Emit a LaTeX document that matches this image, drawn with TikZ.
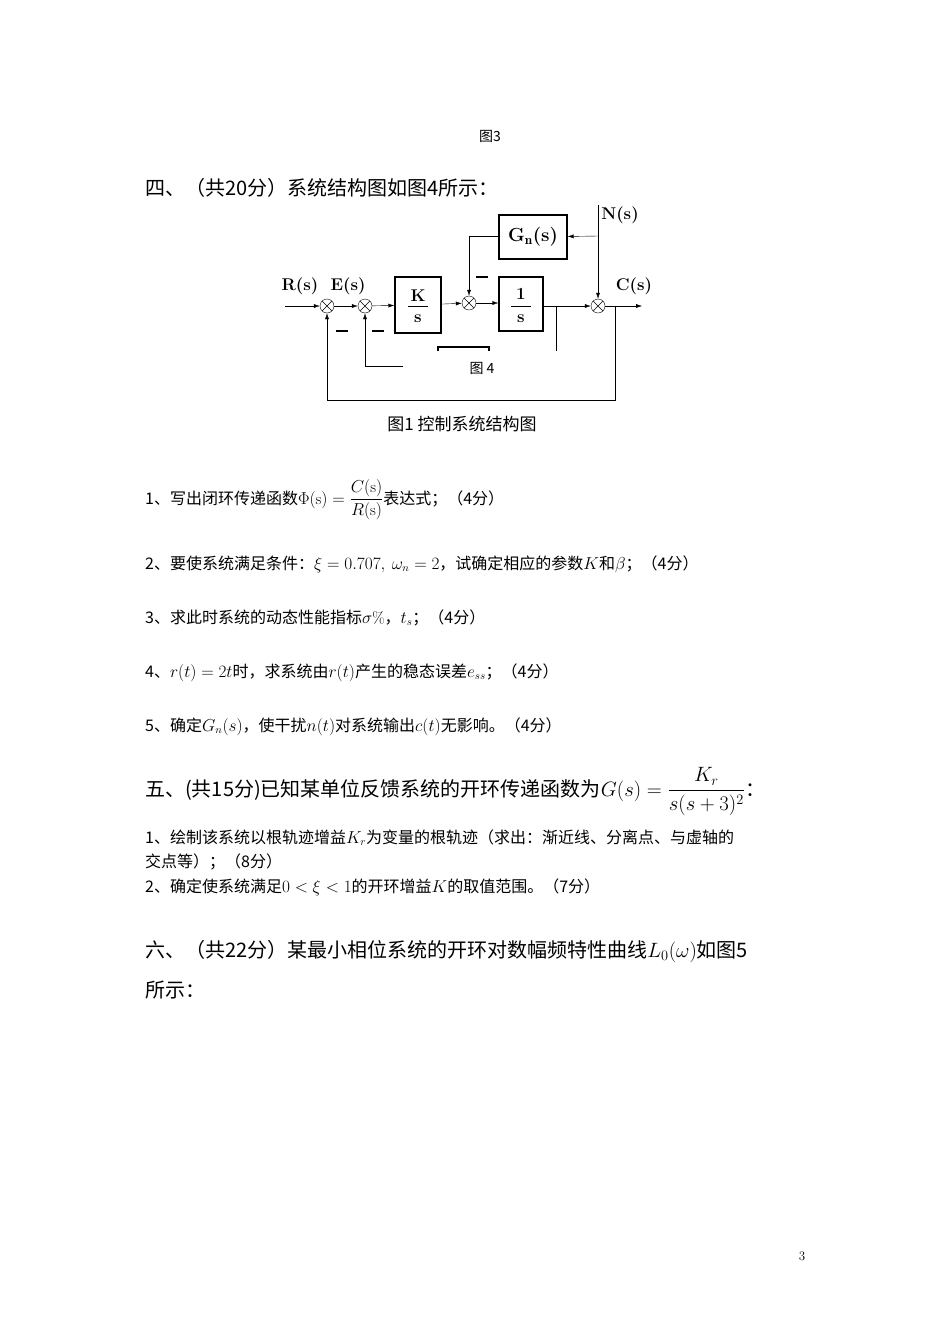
\documentclass[tikz,border=0pt]{standalone}
\usepackage{amsmath}
\usepackage{fontspec}
\usetikzlibrary{arrows.meta}
\newfontfamily\cjk{Noto Sans CJK SC}
\begin{document}
\begin{tikzpicture}[x=1pt,y=-1pt,
 sumj/.style={circle,draw,minimum size=14pt,inner sep=0pt,
   path picture={\draw (path picture bounding box.north west)--(path picture bounding box.south east)
     (path picture bounding box.north east)--(path picture bounding box.south west);}},
 blk/.style={draw,line width=1.4pt,inner sep=0pt},
 sig/.style={-{Latex[length=6pt,width=4pt]}},
 lbl/.style={font=\bfseries\fontsize{17}{20}\selectfont},
 body/.style={anchor=base west,inner sep=0pt,font=\cjk\fontsize{16}{20}\selectfont},
 head/.style={anchor=base west,inner sep=0pt,font=\cjk\fontsize{20}{24}\selectfont}]
\useasboundingbox (0,0) rectangle (950,1344);
\node[inner sep=0pt,font=\cjk\fontsize{14}{16}\selectfont] (f3) at (490,136) {图3};
\node[head] (h4) at (145,195) {四、（共20分）系统结构图如图4所示：};
% diagram
\node[sumj] (s1) at (327,306) {};
\node[sumj] (s2) at (365,306) {};
\node[sumj] (s3) at (469,303) {};
\node[sumj] (s4) at (598,306) {};
\node[blk,minimum width=46pt,minimum height=56pt] (bk) at (418,305) {};
\node[lbl] at (418,296) {K};
\draw[line width=1pt] (408,306)--(428,306);
\node[lbl] at (418,319) {s};
\node[blk,minimum width=44pt,minimum height=54pt] (bi) at (521,304) {};
\node[lbl] at (521,294) {1};
\draw[line width=1pt] (511,306)--(531,306);
\node[lbl] at (521,319) {s};
\node[blk,minimum width=68pt,minimum height=44pt,font=\bfseries\fontsize{19}{22}\selectfont] (gn) at (533,237) {G$_{\mathbf n}$(s)};
\coordinate (in) at (285,306);
\coordinate (ntop) at (598,205);
\coordinate (nbr) at (598,236);
\coordinate (out) at (642,306);
\coordinate (fbr) at (615,306);
\coordinate (fb1) at (615,400);
\coordinate (fb2) at (327,400);
\coordinate (ib1) at (365,366);
\coordinate (ib2) at (403,366);
\coordinate (gl) at (469,236);
\coordinate (vt) at (556,306);
\coordinate (vb) at (556,351);
\draw[sig] (in) -- (s1);
\draw[sig] (s1) -- (s2);
\draw[sig] (s2) -- (bk);
\draw[sig] (bk) -- (s3);
\draw[sig] (s3) -- (bi.west|-s3);
\draw[sig] (bi.east|-s4) -- (s4);
\draw[sig] (s4) -- (out);
\draw (ntop) -- (nbr);
\draw[sig] (nbr) -- (s4);
\draw[sig] (nbr) -- (gn);
\draw[sig] (gn.west|-gl) -- (gl) -- (s3);
\draw[sig] (fbr) -- (fb1) -- (fb2) -- (s1);
\draw[sig] (ib2) -- (ib1) -- (s2);
\draw (vt) -- (vb);
\draw[line width=1.2pt] (438,351)--(438,347)--(489,347)--(489,351);
\draw[line width=1.4pt] (476,277)--(488,277) (336,331)--(348,331) (372,331)--(384,331);
\node[lbl] (rl) at (300,286) {R(s)};
\node[lbl] (el) at (348,286) {E(s)};
\node[lbl] (nl) at (620,215) {N(s)};
\node[lbl] (cl) at (634,286) {C(s)};
\node[inner sep=0pt,font=\cjk\fontsize{14}{16}\selectfont] (f4) at (482,368) {图 4};
\node[inner sep=0pt,font=\cjk\fontsize{17}{20}\selectfont] (cap) at (462,424) {图1\ 控制系统结构图};
% questions
\node[body] (q1) at (145,504) {1、写出闭环传递函数$\Phi(\mathrm{s})=\dfrac{C(\mathrm{s})}{R(\mathrm{s})}$表达式；（4分）};
\node[body] (q2) at (145,569) {2、要使系统满足条件：$\xi=0.707,\ \omega_n=2$，试确定相应的参数$K$和$\beta$；（4分）};
\node[body] (q3) at (145,623) {3、求此时系统的动态性能指标$\sigma\%$，$t_s$；（4分）};
\node[body] (q4) at (145,677) {4、$r(t)=2t$时，求系统由$r(t)$产生的稳态误差$e_{ss}$；（4分）};
\node[body] (q5) at (145,731) {5、确定$G_n(s)$，使干扰$n(t)$对系统输出$c(t)$无影响。（4分）};
\node[head] (h5) at (145,796) {五、(共15分)已知某单位反馈系统的开环传递函数为$G(s)=\dfrac{K_r}{s(s+3)^2}$：};
\node[body] (p1) at (145,843) {1、绘制该系统以根轨迹增益$K_r$为变量的根轨迹（求出：渐近线、分离点、与虚轴的};
\node[body] (p1b) at (145,867) {交点等）；（8分）};
\node[body] (p2) at (145,892) {2、确定使系统满足$0<\xi<1$的开环增益$K$的取值范围。（7分）};
\node[head] (h6) at (145,957) {六、（共22分）某最小相位系统的开环对数幅频特性曲线$L_0(\omega)$如图5};
\node[head] (h6b) at (145,997) {所示：};
\node[inner sep=0pt,font=\fontsize{13}{15}\selectfont] (pg) at (802,1256) {3};
\end{tikzpicture}
\end{document}
